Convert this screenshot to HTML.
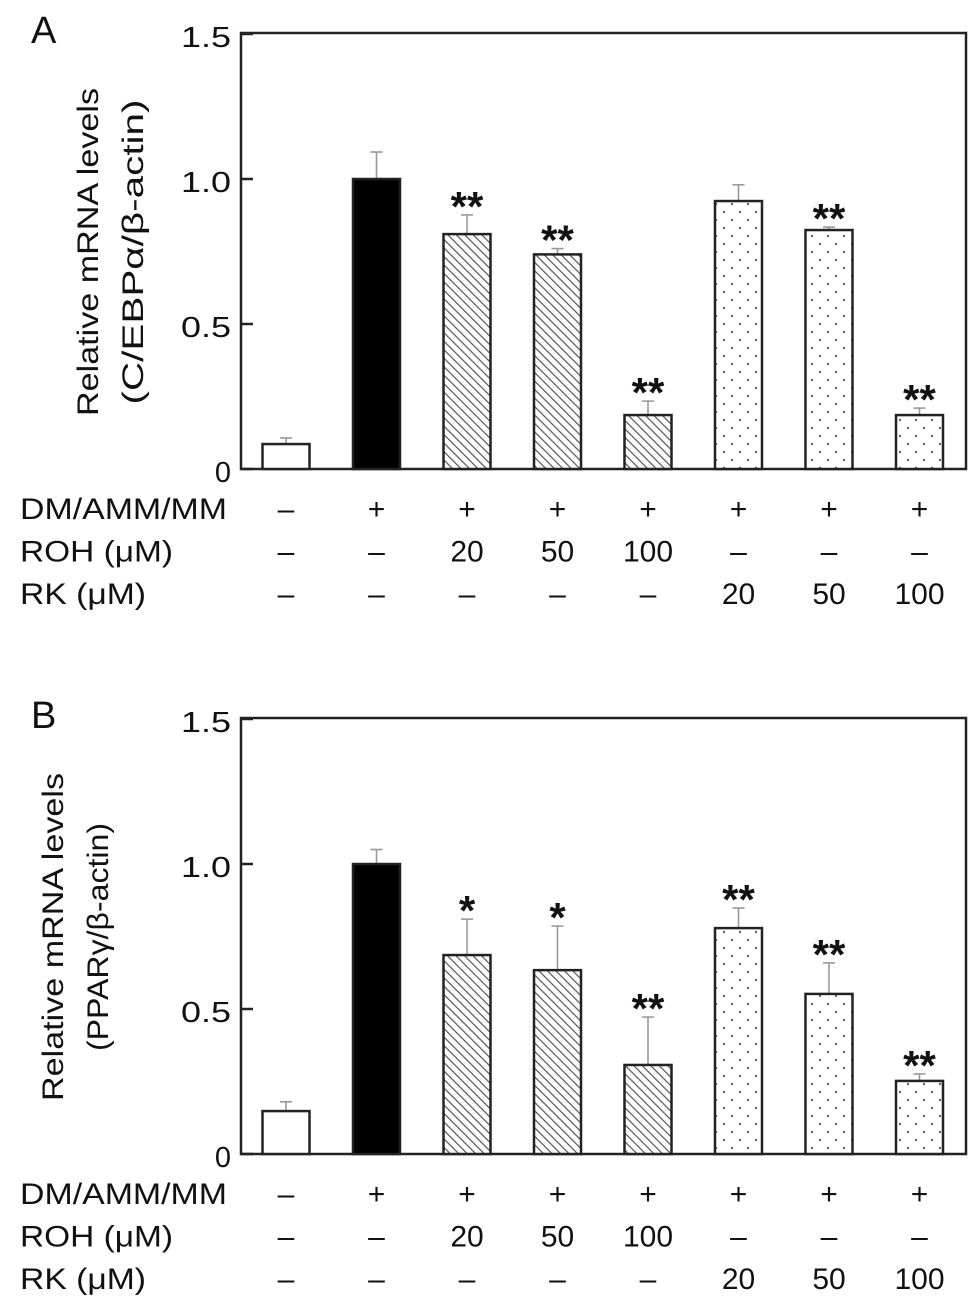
<!DOCTYPE html>
<html><head><meta charset="utf-8"><style>
body{margin:0;background:#fff}
svg text{font-family:"Liberation Sans",Arial,sans-serif;fill:#111}
</style></head><body>
<svg id="fig" width="979" height="1306" viewBox="0 0 979 1306" xmlns="http://www.w3.org/2000/svg">
<defs>
<pattern id="hatch" patternUnits="userSpaceOnUse" width="6" height="6" patternTransform="rotate(-45)">
<rect width="6" height="6" fill="#fff"/><line x1="0" y1="0" x2="0" y2="6" stroke="#555" stroke-width="2.4"/></pattern>
<pattern id="dots" patternUnits="userSpaceOnUse" width="16" height="16">
<rect width="16" height="16" fill="#fff"/><circle cx="4" cy="4" r="1.2" fill="#666"/><circle cx="12" cy="12" r="1.2" fill="#666"/></pattern>
</defs>
</svg>
<script>
const categories=["ctrl","DM","ROH20","ROH50","ROH100","RK20","RK50","RK100"];
const fills=["#fff","#000","url(#hatch)","url(#hatch)","url(#hatch)","url(#dots)","url(#dots)","url(#dots)"];
const valuesA=[0.086,1.0,0.81,0.74,0.186,0.924,0.824,0.186];
const errorsA=[0.021,0.093,0.066,0.02,0.048,0.056,0.01,0.024];
const starsA=["","","**","**","**","","**","**"];
const valuesB=[0.148,1.0,0.686,0.634,0.307,0.779,0.552,0.252];
const errorsB=[0.032,0.05,0.124,0.152,0.165,0.069,0.107,0.024];
const starsB=["","","*","*","**","**","**","**"];
const yTicks=[0,0.5,1.0,1.5];
const yTickLabels=["0","0.5","1.0","1.5"];
const rowNames=["DM/AMM/MM","ROH (\u03bcM)","RK (\u03bcM)"];
const rowDM=["\u2013","+","+","+","+","+","+","+"];
const rowROH=["\u2013","\u2013","20","50","100","\u2013","\u2013","\u2013"];
const rowRK=["\u2013","\u2013","\u2013","\u2013","\u2013","20","50","100"];

const svg=document.getElementById('fig');
const NS="http://www.w3.org/2000/svg";
function mk(tag,attrs,parent){const e=document.createElementNS(NS,tag);for(const k in attrs)e.setAttribute(k,attrs[k]);(parent||svg).appendChild(e);return e;}
function txt(s,x,y,size,anchor,parent){const t=mk('text',{x:x,y:y,'font-size':size,'text-anchor':anchor||'middle'},parent);t.textContent=s;return t;}

function panel(letter,top,values,errors,stars,title2,label,tx1,tx2,len2){
  const g=mk('g',{});
  
  
  const x0=241,x1=966,base=top+435;
  const yS=v=>base-v*290;
  const xS=i=>286+i*90.5;
  const L=txt(letter,31,top+9,38,'start',g);
  
  
  const frame=mk('rect',{x:x0,y:top-1,width:x1-x0,height:base-top+1,fill:'none',stroke:'#222','stroke-width':2.5},g);
  
  
  yTicks.forEach((v,i)=>{
    const tk=mk('line',{x1:x0,x2:x0+12,y1:yS(v),y2:yS(v),stroke:'#222','stroke-width':2.5},g);
    
    
    const tl=txt(yTickLabels[i],231,yS(v)+13,29,'end',g);
    
    
    if(yTickLabels[i].length>1){tl.setAttribute('textLength',50);tl.setAttribute('lengthAdjust','spacingAndGlyphs');}
  });
  const cy=top+218;
  const yt=mk('text',{transform:`translate(${tx1},${cy}) rotate(-90)`,'font-size':30,'text-anchor':'middle',textLength:328,lengthAdjust:'spacingAndGlyphs'},g);
  yt.textContent='Relative mRNA levels';
  
  
  const yt2=mk('text',{transform:`translate(${tx2},${cy}) rotate(-90)`,'font-size':30,'text-anchor':'middle',textLength:len2,lengthAdjust:'spacingAndGlyphs'},g);
  yt2.textContent=title2;
  
  
  values.forEach((v,i)=>{
    const cx=xS(i),w=47;
    const et=yS(v+errors[i]);
    const el=mk('line',{x1:cx,x2:cx,y1:yS(v),y2:et,stroke:'#999','stroke-width':1.6},g);
    
    
    const ec=mk('line',{x1:cx-6,x2:cx+6,y1:et,y2:et,stroke:'#999','stroke-width':1.6},g);
    
    
    const b=mk('rect',{x:cx-w/2,y:yS(v),width:w,height:base-yS(v),fill:fills[i],stroke:'#222','stroke-width':2.5},g);
    
    
    if(stars[i]){
      const st=txt(stars[i],cx,et+6,42,'middle',g);
      st.setAttribute('font-weight','bold');
      
      
    }
  });
  [rowDM,rowROH,rowRK].forEach((row,r)=>{
    const ry=base+50+r*42.5;
    const rn=txt(rowNames[r],20,ry,30,'start',g);
    rn.setAttribute('textLength',[207,153,126][r]);
    rn.setAttribute('lengthAdjust','spacingAndGlyphs');
    
    
    row.forEach((s,i)=>{
      const c=txt(s,xS(i),ry,30,'middle',g);
      
      
    });
  });
}
panel('A',34,valuesA,errorsA,starsA,'(C/EBP\u03b1/\u03b2-actin)','a',98,143,305);
panel('B',719,valuesB,errorsB,starsB,'(PPAR\u03b3/\u03b2-actin)','b',63,108,228);
</script>
</body></html>
